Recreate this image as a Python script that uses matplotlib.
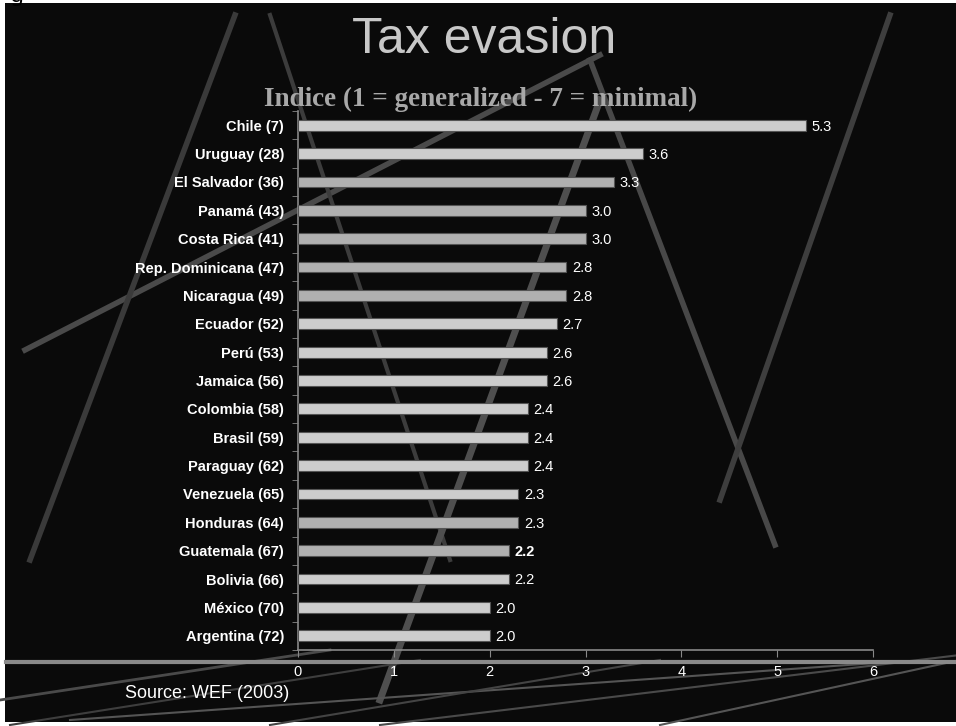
import numpy as np
import matplotlib.pyplot as plt
from matplotlib.lines import Line2D
from matplotlib.patches import Rectangle

countries = ['Chile (7)', 'Uruguay (28)', 'El Salvador (36)', 'Panamá (43)', 'Costa Rica (41)',
             'Rep. Dominicana (47)', 'Nicaragua (49)', 'Ecuador (52)', 'Perú (53)', 'Jamaica (56)',
             'Colombia (58)', 'Brasil (59)', 'Paraguay (62)', 'Venezuela (65)', 'Honduras (64)',
             'Guatemala (67)', 'Bolivia (66)', 'México (70)', 'Argentina (72)']
values = [5.3, 3.6, 3.3, 3.0, 3.0, 2.8, 2.8, 2.7, 2.6, 2.6, 2.4, 2.4, 2.4, 2.3, 2.3, 2.2, 2.2, 2.0, 2.0]
shade = ['#cdcdcd', '#cdcdcd', '#b0b0b0', '#b0b0b0', '#b0b0b0', '#b0b0b0', '#b0b0b0', '#cdcdcd',
         '#cdcdcd', '#cdcdcd', '#cdcdcd', '#cdcdcd', '#cdcdcd', '#cdcdcd', '#b0b0b0', '#b0b0b0',
         '#cdcdcd', '#cdcdcd', '#cdcdcd']
xticks = [0, 1, 2, 3, 4, 5, 6]

W, H = 956, 726
fig = plt.figure(figsize=(W / 100, H / 100), dpi=100, facecolor='white')

def px(x, y):
    # pixel coords (top-left origin) -> figure fraction
    return x / W, 1 - y / H

# slide background
fig.patches.append(Rectangle(px(5, 722), (W - 5) / W, 719 / H, transform=fig.transFigure,
                             facecolor='#0a0a0a', edgecolor='none', zorder=0))
fig.text(*px(10, -4), 'g', fontsize=16, color='black', va='center', ha='left')

# decorative background lines
deco = [
    ((25, 350), (600, 55), '#4a4a4a', 4),
    ((30, 560), (235, 15), '#3a3a3a', 4),
    ((270, 15), (450, 560), '#3c3c3c', 3),
    ((380, 700), (600, 100), '#4f4f4f', 5),
    ((590, 60), (775, 545), '#484848', 4),
    ((720, 500), (890, 15), '#3e3e3e', 4),
    ((0, 700), (330, 650), '#4a4a4a', 2),
    ((10, 725), (420, 660), '#3e3e3e', 1.5),
    ((70, 720), (890, 662), '#555555', 1.5),
    ((270, 725), (660, 660), '#444444', 1.5),
    ((380, 725), (960, 655), '#4a4a4a', 1.5),
    ((660, 725), (960, 660), '#555555', 1.5),
]
for (x0, y0), (x1, y1), c, lw in deco:
    a, b = px(x0, y0)
    cc, d = px(x1, y1)
    fig.add_artist(Line2D([a, cc], [b, d], color=c, lw=lw, transform=fig.transFigure, zorder=0.5))
fig.add_artist(Line2D([0.006, 1.0], [1 - 662 / H] * 2, color='#8a8a8a', lw=3,
                      transform=fig.transFigure, zorder=0.6))

ax = fig.add_axes([298 / W, 1 - 650 / H, (873 - 298) / W, (650 - 111) / H])
ax.set_zorder(2)
ax.set_facecolor('none')
y = np.arange(len(countries))
ax.barh(y, values, height=0.38, color=shade, edgecolor='#555555', linewidth=0.8, zorder=3)
ax.set_ylim(len(countries) - 0.5, -0.5)
ax.set_xlim(0, 6)
ax.set_yticks(y)
ax.set_yticklabels(countries, family='Liberation Sans', fontweight='bold', fontsize=10.5, color='white')
ax.set_yticks(np.arange(-0.5, len(countries), 1), minor=True)
ax.tick_params(axis='y', which='major', length=0, pad=10)
ax.tick_params(axis='y', which='minor', length=4, color='#888888', direction='out')
ax.set_xticks(xticks)
ax.set_xticklabels([str(t) for t in xticks], family='Liberation Sans', fontsize=10.5, color='white')
ax.tick_params(axis='x', length=5, color='#888888', pad=6)
for s in ['top', 'right']:
    ax.spines[s].set_visible(False)
for s in ['left', 'bottom']:
    ax.spines[s].set_color('#888888')
    ax.spines[s].set_linewidth(1.2)

for i, v in enumerate(values):
    ax.annotate(f'{v:.1f}', (v, i), xytext=(4, -1), textcoords='offset points', va='center',
                ha='left', color='white', fontsize=10.5, family='Liberation Sans',
                fontweight='bold' if countries[i].startswith('Guatemala') else 'normal', zorder=4)

fig.text(*px(484, 40), 'Tax evasion', family='Liberation Sans',
         fontsize=36, color='#c8c8c8', ha='center', va='center', zorder=3)
fig.text(*px(481, 99), 'Indice (1 = generalized - 7 = minimal)', family='Liberation Serif',
         fontweight='bold', fontsize=19.5, color='#a8a8a8', ha='center', va='center', zorder=3)
fig.text(*px(125, 694), 'Source: WEF (2003)', family='Liberation Sans',
         fontsize=13, color='white', ha='left', va='center', zorder=3)

fig.savefig('out.png', dpi=100, facecolor='white')
